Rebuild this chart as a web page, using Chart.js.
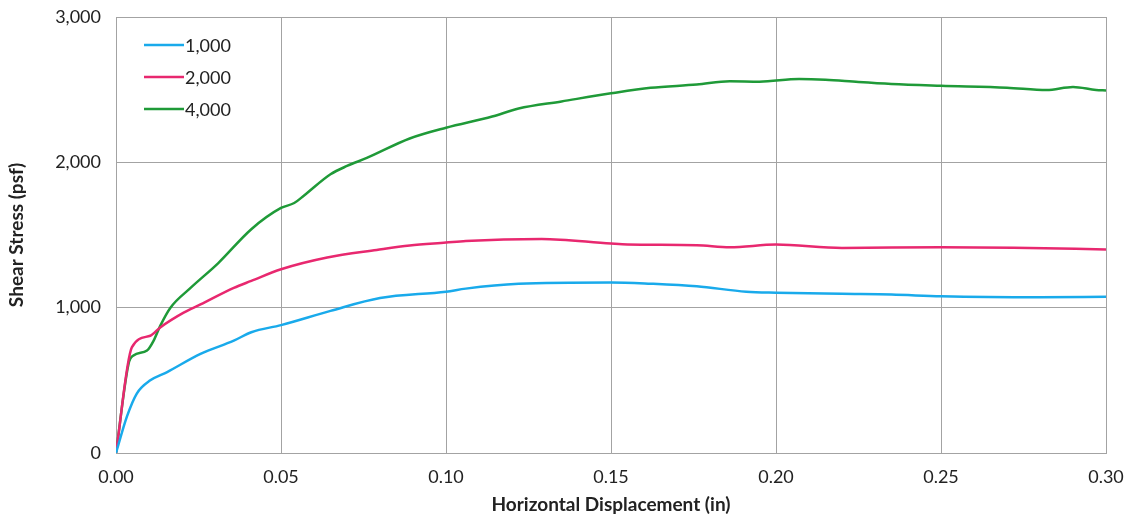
<!DOCTYPE html>
<html>
<head>
<meta charset="utf-8">
<script src="https://cdn.jsdelivr.net/npm/chart.js@4.4.1/dist/chart.umd.min.js"></script>
<style>
	html, body { margin: 0; padding: 0; background: #fff; }
	#wrap { width: 1132px; height: 522px; position: relative; }
</style>
</head>
<body>
<div id="wrap"><canvas id="shearChart" width="1132" height="522"></canvas></div>
<script>
// normal stress labels (psf)
const seriesLabels = ['1,000', '2,000', '4,000']
const seriesColors = ['#19aaeb', '#e8286f', '#1f9a38']

// horizontal displacement (in) / shear stress (psf)
const disp1000 = [0, 0.0033, 0.0063, 0.0104, 0.0155, 0.0256, 0.0357, 0.041, 0.05, 0.065, 0.08, 0.10, 0.106, 0.122, 0.15, 0.162, 0.176, 0.191, 0.20, 0.22, 0.235, 0.25, 0.28, 0.30]
const stress1000 = [0, 250, 409, 500, 557, 682, 773, 831, 880, 978, 1066, 1110, 1131, 1164, 1174, 1165, 1147, 1110, 1103, 1095, 1090, 1078, 1071, 1075]

const disp2000 = [0, 0.0048, 0.0104, 0.0134, 0.0205, 0.0256, 0.0357, 0.041, 0.05, 0.064, 0.079, 0.089, 0.10, 0.106, 0.129, 0.15, 0.155, 0.176, 0.186, 0.20, 0.22, 0.25, 0.272, 0.30]
const stress2000 = [0, 727, 807, 864, 966, 1022, 1136, 1184, 1264, 1345, 1397, 1428, 1448, 1459, 1473, 1441, 1435, 1430, 1416, 1434, 1411, 1416, 1413, 1400]

const disp4000 = [0, 0.0038, 0.0053, 0.0094, 0.0114, 0.0134, 0.0165, 0.0226, 0.031, 0.041, 0.05, 0.054, 0.057, 0.065, 0.07, 0.076, 0.089, 0.10, 0.114, 0.122, 0.135, 0.15, 0.162, 0.176, 0.186, 0.195, 0.207, 0.215, 0.225, 0.235, 0.25, 0.27, 0.282, 0.29, 0.297, 0.30]
const stress4000 = [0, 613, 671, 705, 773, 875, 1000, 1136, 1307, 1540, 1686, 1720, 1772, 1918, 1975, 2030, 2164, 2238, 2315, 2370, 2419, 2475, 2513, 2535, 2558, 2555, 2573, 2568, 2552, 2539, 2527, 2514, 2497, 2518, 2498, 2495]

// axis ticks
const xTicks = [0, 0.05, 0.10, 0.15, 0.20, 0.25, 0.30]
const yTicks = [0, 1000, 2000, 3000]

const allDisp = [disp1000, disp2000, disp4000]
const allStress = [stress1000, stress2000, stress4000]

const FONT = 'Lato, "Open Sans", sans-serif'
const gridGray = '#a3a3a3'

// legend drawn inside the plot area, top left
const innerLegend = {
	id: 'innerLegend',
	afterDraw(chart) {
		const ctx = chart.ctx
		const area = chart.chartArea
		ctx.save()
		ctx.font = '18px ' + FONT
		ctx.textBaseline = 'middle'
		chart.data.datasets.forEach((ds, i) => {
			const y = area.top + 28 + i * 32
			const x0 = area.left + 28
			ctx.strokeStyle = ds.borderColor
			ctx.lineWidth = 2.5
			ctx.beginPath()
			ctx.moveTo(x0, y)
			ctx.lineTo(x0 + 40, y)
			ctx.stroke()
			ctx.fillStyle = '#222'
			ctx.fillText(ds.label, x0 + 41, y + 1)
		})
		ctx.restore()
	},
}

const ctx = document.getElementById('shearChart').getContext('2d')
const shearChart = new Chart(ctx, {
	type: 'line',
	data: {
		datasets: seriesLabels.map((label, i) => ({
			label: label,
			data: allDisp[i].map((x, k) => ({ x: x, y: allStress[i][k] })),
			borderColor: seriesColors[i],
			backgroundColor: seriesColors[i],
			borderWidth: 2.5,
			pointRadius: 0,
			cubicInterpolationMode: 'monotone',
			fill: false,
		})),
	},
	options: {
		responsive: false,
		animation: false,
		layout: { padding: { top: 17, right: 26, left: 0, bottom: 0 } },
		plugins: {
			legend: { display: false },
			tooltip: { enabled: false },
		},
		scales: {
			x: {
				type: 'linear',
				min: 0,
				max: 0.3,
				afterBuildTicks: axis => { axis.ticks = xTicks.map(v => ({ value: v })) },
				afterFit: axis => {
					axis.height = 69
					axis.paddingLeft = 0
					axis.paddingRight = 0
				},
				grid: { color: gridGray, lineWidth: 1, drawTicks: false },
				border: { color: gridGray },
				ticks: {
					color: '#222',
					font: { family: FONT, size: 18 },
					padding: 13,
					maxRotation: 0,
					callback: v => v.toFixed(2),
				},
				title: {
					display: true,
					text: 'Horizontal Displacement (in)',
					color: '#222',
					font: { family: FONT, size: 19, weight: 'bold' },
					padding: { top: 0, bottom: 6 },
				},
			},
			y: {
				min: 0,
				max: 3000,
				afterBuildTicks: axis => { axis.ticks = yTicks.map(v => ({ value: v })) },
				afterFit: axis => {
					axis.width = 116
					axis.paddingTop = 0
					axis.paddingBottom = 0
				},
				grid: { color: gridGray, lineWidth: 1, drawTicks: false },
				border: { color: gridGray },
				ticks: {
					color: '#222',
					font: { family: FONT, size: 18 },
					padding: 15,
					callback: v => v.toLocaleString('en-US'),
				},
				title: {
					display: true,
					text: 'Shear Stress (psf)',
					color: '#222',
					font: { family: FONT, size: 19, weight: 'bold' },
					padding: { top: 5, bottom: 6 },
				},
			},
		},
	},
	plugins: [innerLegend],
})
</script>
</body>
</html>
